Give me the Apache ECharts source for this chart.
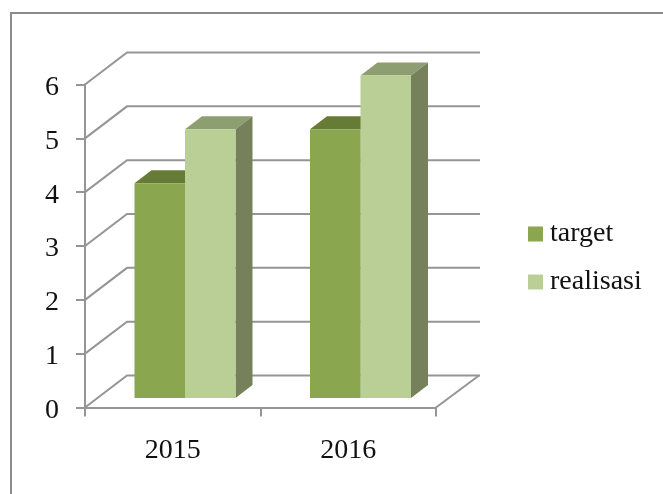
<!DOCTYPE html>
<html>
<head>
<meta charset="utf-8">
<style>
  html, body { margin: 0; padding: 0; background: #fff; }
  #main { width: 663px; height: 494px; }
</style>
<script src="https://cdn.jsdelivr.net/npm/echarts@6/dist/echarts.min.js"></script>
</head>
<body>
<div id="main"></div>
<script>
var categories = ['2015', '2016'];
var target = [4, 5];
var realisasi = [5, 6];
var yTicks = [0, 1, 2, 3, 4, 5, 6];

var fontName = '"Liberation Serif", serif';
var lineColor = '#959595';

var myChart = echarts.init(document.getElementById('main'));

// back wall + floor lines, one polyline per tick
function renderWall(params, api) {
  var cs = params.coordSys;
  var y = api.coord([0, api.value(1)])[1];
  var right = cs.x + cs.width;
  var children = [{
    type: 'polyline',
    shape: { points: [[cs.x, y], [cs.x + 42, y - 32], [right + 44, y - 32]] },
    style: { fill: null, stroke: lineColor, lineWidth: 2 }
  }];
  if (api.value(1) === 0) {
    children.push({
      type: 'line',
      shape: { x1: right, y1: y, x2: right + 43, y2: y - 32 },
      style: { stroke: lineColor, lineWidth: 2 }
    });
  }
  return { type: 'group', children: children };
}

// fake 3d column: front, top and side faces
function makeBar(offset, front, top, side) {
  return function (params, api) {
    var p = api.coord([api.value(0), api.value(1)]);
    var base = api.coord([api.value(0), 0]);
    var x0 = p[0] + offset;
    var x1 = x0 + 50.5;
    var yTop = p[1] - 9;
    var yBase = base[1] - 9.5;
    return {
      type: 'group',
      children: [{
        type: 'polygon',
        shape: { points: [[x0, yTop], [x0 + 17, yTop - 13], [x1 + 17, yTop - 13], [x1, yTop]] },
        style: { fill: top }
      }, {
        type: 'polygon',
        shape: { points: [[x1, yTop], [x1 + 17, yTop - 13], [x1 + 17, yBase - 13], [x1, yBase]] },
        style: { fill: side }
      }, {
        type: 'rect',
        shape: { x: x0, y: yTop, width: x1 - x0, height: yBase - yTop },
        style: { fill: front }
      }]
    };
  };
}

function toPairs(values) {
  return values.map(function (v, i) { return [i, v]; });
}

var option = {
  backgroundColor: '#fff',
  animation: false,
  textStyle: { fontFamily: fontName },
  graphic: [{
    type: 'polyline',
    silent: true,
    shape: { points: [[11, 494], [11, 13], [663, 13]] },
    style: { fill: null, stroke: '#8c8c8c', lineWidth: 2 }
  }],
  legend: {
    orient: 'vertical',
    left: 523,
    top: 215,
    itemWidth: 15,
    itemHeight: 15,
    itemGap: 20,
    icon: 'rect',
    data: ['target', 'realisasi'],
    textStyle: { fontFamily: fontName, fontSize: 28, color: '#111', padding: [0, 0, 0, 2] }
  },
  grid: { left: 85, right: 227, top: 84.5, bottom: 86.5 },
  xAxis: {
    type: 'category',
    data: categories,
    axisLine: { lineStyle: { color: lineColor, width: 2 } },
    axisTick: { show: true, length: 9, alignWithLabel: false, lineStyle: { color: lineColor, width: 2 } },
    axisLabel: { fontFamily: fontName, fontSize: 28, color: '#111', margin: 29 }
  },
  yAxis: {
    type: 'value',
    min: 0,
    max: 6,
    interval: 1,
    splitLine: { show: false },
    axisLine: { show: true, lineStyle: { color: lineColor, width: 2 } },
    axisTick: { show: true, length: 9, lineStyle: { color: lineColor, width: 2 } },
    axisLabel: { fontFamily: fontName, fontSize: 28, color: '#111', margin: 26, verticalAlign: 'top', lineHeight: 6 }
  },
  series: [{
    name: 'wall',
    type: 'custom',
    z: 1,
    silent: true,
    renderItem: renderWall,
    encode: { x: 0, y: 1 },
    data: yTicks.map(function (v) { return [0, v]; })
  }, {
    name: 'target',
    type: 'custom',
    z: 2,
    itemStyle: { color: '#8aa64f' },
    renderItem: makeBar(-38.25, '#8aa64f', '#667b35', '#667b35'),
    encode: { x: 0, y: 1 },
    data: toPairs(target)
  }, {
    name: 'realisasi',
    type: 'custom',
    z: 3,
    itemStyle: { color: '#b9cf96' },
    renderItem: makeBar(12.25, '#b9cf96', '#8d9e70', '#76815c'),
    encode: { x: 0, y: 1 },
    data: toPairs(realisasi)
  }]
};
myChart.setOption(option);
</script>
</body>
</html>
